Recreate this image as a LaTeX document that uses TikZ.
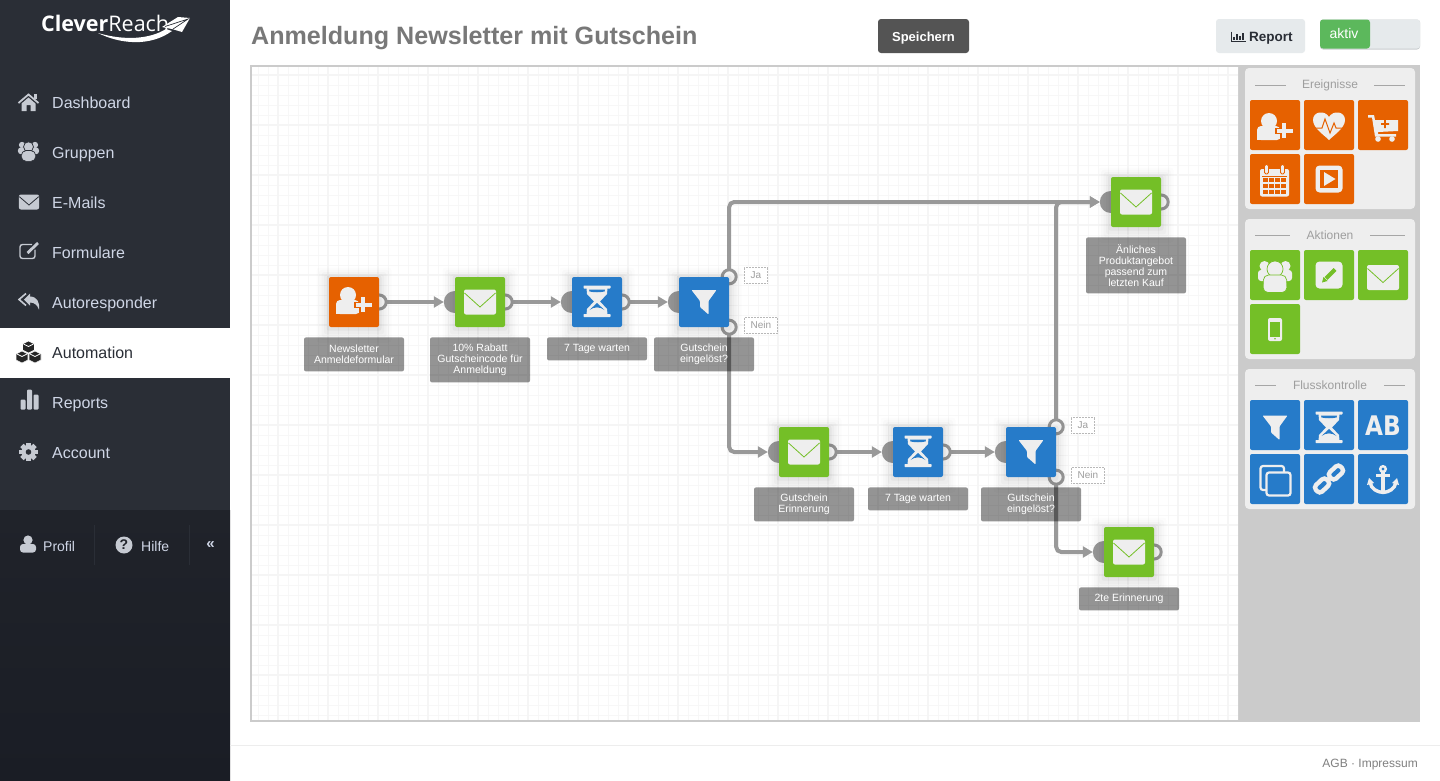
\documentclass[tikz,border=0pt]{standalone}
\usepackage{fontspec}
\setmainfont{Liberation Sans}
\newfontfamily\logofont{Open Sans}
\newfontfamily\abfont{DejaVu Sans}
\usetikzlibrary{positioning,arrows.meta,shadows}
\pgfdeclarelayer{base}
\pgfdeclarelayer{wire}
\pgfsetlayers{base,wire,main}
\definecolor{sidetop}{HTML}{2A2E36}
\definecolor{sidelow}{HTML}{20232A}
\definecolor{sideend}{HTML}{1A1D25}
\definecolor{sidefg}{HTML}{C6CAD2}
\definecolor{sidetxt}{HTML}{CFD6E6}
\definecolor{orng}{HTML}{E66100}
\definecolor{grn}{HTML}{74BF27}
\definecolor{blu}{HTML}{267BC9}
\definecolor{wirec}{HTML}{999999}
\definecolor{panelc}{HTML}{CBCBCB}
\definecolor{cardc}{HTML}{EEEEEE}
\definecolor{btnc}{HTML}{E6EAEC}
\definecolor{btnrim}{HTML}{C8CCCE}
\definecolor{onc}{HTML}{5CB85C}
\newcommand{\fpx}[1]{\fontsize{#1}{#1}\selectfont}
\tikzset{
    softshadow/.style={
        general shadow={fill=black,opacity=.012,shadow scale=1.5,shadow yshift=-2pt,rounded corners=12pt},
        general shadow={fill=black,opacity=.015,shadow scale=1.4,shadow yshift=-2pt,rounded corners=10pt},
        general shadow={fill=black,opacity=.02,shadow scale=1.3,shadow yshift=-2pt,rounded corners=8pt},
        general shadow={fill=black,opacity=.025,shadow scale=1.2,shadow yshift=-2pt,rounded corners=6pt},
        general shadow={fill=black,opacity=.035,shadow scale=1.1,shadow yshift=-1pt,rounded corners=3pt}},
    iconbox/.style={minimum size=50pt,inner sep=0pt,rounded corners=2pt,fill=#1},
    stepbox/.style={iconbox=#1,softshadow},
    portin/.style={circle,fill=wirec,minimum size=22pt,inner sep=0pt,outer sep=0pt},
    portout/.style={circle,draw=wirec,fill=white,line width=3pt,minimum size=14pt,inner sep=0pt,outer sep=0pt},
    flow/.style={draw=wirec,line width=4pt,rounded corners=5pt,-{Triangle[length=10pt,width=11pt]}},
    steplabel/.style={fill=black,fill opacity=.42,text opacity=1,text=white,minimum width=100pt,
        inner xsep=0pt,inner ysep=0pt,rounded corners=2pt,align=center,font=\fontsize{10.5}{11}\selectfont,
        minimum height=#1,below=10pt},
    tagbox/.style={draw=black!28,densely dotted,line width=.5pt,text=black!38,fill=white,anchor=west,
        minimum height=16pt,inner sep=0pt,font=\fpx{10}},
    sideitem/.style={anchor=base west,text=sidetxt,inner sep=0pt,font=\fpx{16}},
    cardtitle/.style={text=black!38,inner sep=0pt,font=\fpx{12}},
    cardrule/.style={draw=black!35,line width=.7pt},
    pics/envlp/.style n args={2}{code={
        \fill[#1,rounded corners=2pt] (-16,-12.5) rectangle (16,12.5);
        \draw[#2,line width=.8pt] (-15.5,-9) -- (0,5) -- (15.5,-9);
    }},
    pics/glass/.style={code={
        \fill[cardc,rounded corners=.6pt] (-13.5,-16.5) rectangle (13.5,-13.5);
        \fill[cardc,rounded corners=.6pt] (-13.5,12) rectangle (13.5,15);
        \fill[cardc] (-10.5,-14) -- (10.5,-14) -- (10,-8) -- (3,-.5) -- (10,7) -- (10.5,12.5) -- (-10.5,12.5) -- (-10,7) -- (-3,-.5) -- (-10,-8) -- cycle;
        \fill[#1] (-8,-12.5) -- (8,-12.5) -- (7.5,-10.5) .. controls (3,-9.5) and (-3,-9.5) .. (-7.5,-10.5) -- cycle;
        \fill[#1] (0,1) -- (7.5,8) .. controls (3,4.5) and (-3,4.5) .. (-7.5,8) -- cycle;
    }},
    pics/funnl/.style={code={
        \fill[#1,rounded corners=.8pt] (-12.5,-12) -- (12.5,-12) -- (4.5,-1) -- (4.5,12.5) -- (-4,5) -- (-4,-1) -- cycle;
    }},
    pics/useradd/.style={code={
        \fill[cardc] (-6,-7) circle (8);
        \fill[cardc,rounded corners=4pt] (-18,-2) -- (5,-2) -- (6,12) -- (-18,12) -- cycle;
        \fill[cardc] (-18,6) rectangle (-14,12);
        \draw[#1,line width=1.2pt,fill=cardc] (1,.5) -- (6,.5) -- (6,-5.5) -- (12,-5.5) -- (12,.5) -- (18.5,.5) -- (18.5,5.5) -- (12,5.5) -- (12,11) -- (6,11) -- (6,5.5) -- (1,5.5) -- cycle;
    }},
    pics/heartbeat/.style={code={
        \fill[cardc] (0,15) .. controls (-5,10) and (-16,3) .. (-16,-5) .. controls (-16,-14) and (-4,-15) .. (0,-8) .. controls (4,-15) and (16,-14) .. (16,-5) .. controls (16,3) and (5,10) .. (0,15) -- cycle;
        \draw[#1,line width=1pt] (-17,3) -- (-7,3) -- (-4,-6) -- (1,8) -- (5,-2) -- (7,3) -- (17,3);
    }},
    pics/cart/.style={code={
        \fill[cardc] (-15,-10) -- (-9,-10) -- (-8,-5) -- (15,-5) -- (15,6) -- (-5,7) -- (-5,9) -- (13,9) -- (13,11.5) -- (-8,11.5) -- (-11,-7.5) -- (-15,-7.5) -- cycle;
        \fill[cardc] (-5,14) circle (2.8) (9,14) circle (2.8);
        \fill[#1] (-2,-1.8) rectangle (6,-.2) (1.2,-5) rectangle (2.8,3);
    }},
    pics/calendar/.style={code={
        \fill[cardc,rounded corners=2pt] (-14.5,-10) rectangle (14.5,17.5);
        \fill[#1] (-12.5,-3.5) rectangle (12.5,-2.5);
        \foreach \cx in {-12,-6,0,6} \foreach \cy in {-1,5,11} \fill[#1] (\cx+.8,\cy) rectangle (\cx+5,\cy+4);
        \draw[#1,fill=cardc,line width=.8pt,rounded corners=1.5pt] (-10,-14.5) rectangle (-6,-5) (6,-14.5) rectangle (10,-5);
    }},
    pics/playbox/.style={code={
        \fill[cardc,rounded corners=4pt] (-13.5,-13.5) rectangle (13.5,13.5);
        \fill[#1] (-9,-9) rectangle (9,9);
        \fill[cardc] (-5,-7) -- (6.5,0) -- (-5,7) -- cycle;
    }},
    pics/crowd/.style n args={2}{code={
        \fill[#1] (-10.5,-9) circle (5) (10.5,-9) circle (5);
        \fill[#1,rounded corners=3pt] (-17,-5) rectangle (-6,6) (6,-5) rectangle (17,6);
        \draw[#2,fill=#1,line width=.7pt] (0,-6) circle (8);
        \draw[#2,fill=#1,line width=.7pt,rounded corners=5pt] (-11.5,0) -- (11.5,0) -- (12,17.5) -- (-12,17.5) -- cycle;
    }},
    pics/editbox/.style={code={
        \fill[cardc,rounded corners=4pt] (-13.5,-13.5) rectangle (13.5,13.5);
        \draw[#1,line width=4pt] (-3,3.5) -- (6,-5.5);
        \fill[#1] (-7,7.5) -- (-5.5,2) -- (-1.5,6) -- cycle;
    }},
    pics/mobile/.style={code={
        \fill[cardc,rounded corners=2pt] (-7,-11) rectangle (7,12);
        \fill[#1] (-5,-7) rectangle (5,7.5);
        \fill[#1] (0,9.8) circle (.9);
    }},
    pics/copies/.style={code={
        \draw[cardc,line width=2.2pt,rounded corners=2.5pt] (-14.5,-13) rectangle (9,11);
        \draw[cardc,fill=#1,line width=2.2pt,rounded corners=2.5pt] (-8.5,-6.5) rectangle (15.5,16.5);
    }},
    pics/chain/.style={code={
        \draw[cardc,line width=4.4pt,rounded corners=3.5pt,rotate=43] (-17,-4.5) rectangle (-2,4.5) (2,-4.5) rectangle (17,4.5);
    }},
    pics/anchr/.style={code={
        \draw[cardc,line width=2.4pt] (0,-10) circle (2.8);
        \fill[cardc] (-2,-7) rectangle (2,14);
        \fill[cardc] (-7,-5.5) rectangle (7,-2.5);
        \draw[cardc,line width=3.4pt] (-13,3) .. controls (-12,10) and (-6,13) .. (0,13.5) .. controls (6,13) and (12,10) .. (13,3);
        \fill[cardc] (-16,6) -- (-14,-1) -- (-9,4) -- cycle (16,6) -- (14,-1) -- (9,4) -- cycle;
    }},
    pics/homeicon/.style={code={
        \draw[#1,line width=1.8pt,line join=miter] (-10,1) -- (0,-7.5) -- (10,1);
        \fill[#1] (5,-8) rectangle (8,-3);
        \fill[#1] (-7,1.5) -- (0,-4.5) -- (7,1.5) -- (7,9) -- (2,9) -- (2,3) -- (-2,3) -- (-2,9) -- (-7,9) -- cycle;
    }},
    pics/editicon/.style n args={2}{code={
        \draw[#1,line width=1.4pt,rounded corners=2.5pt] (6,-2) -- (6,7) -- (-9,7) -- (-9,-7) -- (3,-7);
        \draw[#2,line width=4.2pt] (-2,2) -- (9,-8.5);
        \draw[#1,line width=2.8pt] (-1.5,1.5) -- (9,-8.5);
    }},
    pics/replyicon/.style={code={
        \draw[#1,line width=1.6pt] (-3,-8) -- (-10,-2) -- (-3,4);
        \fill[#1] (-5,-2) -- (1,-8) -- (1,-5) .. controls (8,-5) and (11,1) .. (10,8) .. controls (8,3) and (5,1) .. (1,1) -- (1,4) -- cycle;
    }},
    pics/cubeicon/.style={code={
        \foreach \qx/\qy in {0/-5,-6.5/5,6.5/5}
            \draw[white,line width=.6pt,fill=#1,shift={(\qx,\qy)}] (0,-6) -- (6,-3) -- (6,3) -- (0,6) -- (-6,3) -- (-6,-3) -- cycle;
        \foreach \qx/\qy in {0/-5,-6.5/5,6.5/5}
            \draw[white,line width=.7pt,shift={(\qx,\qy)}] (-5,-3) -- (0,-.5) -- (5,-3);
    }},
    pics/barsicon/.style={code={
        \fill[#1,rounded corners=1pt] (-9,-1) rectangle (-4,9) (-2.5,-11) rectangle (2.5,9) (4,-6) rectangle (9,9);
    }},
    pics/cogicon/.style n args={2}{code={
        \foreach \qa in {0,45,...,315} \fill[#1,rotate=\qa] (-2.4,-9.2) rectangle (2.4,0);
        \fill[#1] (0,0) circle (7);
        \fill[#2] (0,0) circle (2.8);
    }},
    pics/personicon/.style={code={
        \fill[#1] (0,-5) circle (4.6);
        \fill[#1,rounded corners=3pt] (-8,-1) rectangle (8,7.5);
    }},
    pics/reportbars/.style={code={
        \draw[#1,line width=.7pt] (-7,-5) -- (-7,4.5) -- (7.5,4.5);
        \foreach \qx/\qh in {-5/3,-2/6,1/4,4/7} \fill[#1] (\qx,3.6) rectangle (\qx+1.7,3.6-\qh);
    }},
}
\begin{document}
\begin{tikzpicture}[x=1pt,y=-1pt]
\useasboundingbox (0,0) rectangle (1440,780);
\begin{pgfonlayer}{base}
    \fill[white] (0,0) rectangle (1440,780);
    % sidebar
    \fill[sidetop] (0,0) rectangle (230,510);
    \shade[top color=sidelow,bottom color=sideend] (0,510) rectangle (230,780);
    \fill[white] (0,328) rectangle (230,378);
    \draw[sidetop,line width=1pt] (94.5,525) -- (94.5,565) (189.5,525) -- (189.5,565);
    % canvas
    \fill[panelc] (250,65) rectangle (1420,722);
    \fill[white] (252,67) rectangle (1238,720);
    \begin{scope}
        \clip (252,67) rectangle (1238,720);
        \foreach \gx in {258,268,...,1238} \draw[black!3,line width=.5pt] (\gx,67) -- (\gx,720);
        \foreach \gy in {75,85,...,720} \draw[black!3,line width=.5pt] (252,\gy) -- (1238,\gy);
        \foreach \gx in {278,328,...,1238} \draw[black!4,line width=2pt] (\gx,67) -- (\gx,720);
        \foreach \gy in {75,125,...,720} \draw[black!4,line width=2pt] (252,\gy) -- (1238,\gy);
    \end{scope}
    \draw[black!7] (230,745.5) -- (1440,745.5);
\end{pgfonlayer}
% head
\node[anchor=base west,inner sep=0pt,text=black!53,font=\bfseries\fpx{25.1}] (title) at (251,44) {Anmeldung Newsletter mit Gutschein};
\node[fill=black!67,rounded corners=3pt,minimum width=91pt,minimum height=34pt,inner sep=0pt] (save) at (923.5,36) {};
\node[anchor=base,inner sep=0pt,text=white,font=\bfseries\fpx{13}] (savetxt) at (923.5,41) {Speichern};
\node[fill=btnc,rounded corners=3pt,minimum width=89pt,minimum height=34pt,inner sep=0pt] (report) at (1260.5,36) {};
\node[anchor=base west,inner sep=0pt,text=sidetop,font=\fpx{13.5}] (reporttxt) at (1249,41) {\bfseries Report};
\pic at (1238,36.5) {reportbars=sidetop};
\node[fill=btnrim,rounded corners=3pt,minimum width=100pt,minimum height=30pt,inner sep=0pt] (switchrim) at (1370,34.5) {};
\node[fill=btnc,rounded corners=3pt,minimum width=100pt,minimum height=29pt,inner sep=0pt] (switch) at (1370,34) {};
\node[fill=onc,rounded corners=3pt,minimum width=50pt,minimum height=29pt,inner sep=0pt] (switchon) at (1345,34) {};
\node[inner sep=0pt,text=white,font=\fpx{14}] (switchtxt) at (1344,33) {aktiv};
% sidebar
\node[anchor=base west,inner sep=0pt,text=white,font=\logofont\fpx{21.5}] (logo) at (41,31) {\textbf{Clever}Reach};
\fill[white] (98,33) .. controls (120,44) and (150,47) .. (172,31) -- (166,29) .. controls (150,39) and (125,41) .. (98,33) -- cycle;
\fill[white] (162,27) -- (178,17) -- (190,18) -- (182,32) -- (172,29) -- cycle;
\draw[sidetop,line width=.7pt] (165,26.5) -- (188,19) -- (173,29);
\foreach \ny/\nm/\txt in {108/dash/Dashboard,158/groups/Gruppen,208/mails/E-Mails,258/forms/Formulare,308/auto/Autoresponder,408/reps/Reports,458/acct/Account}
    \node[sideitem] (side\nm) at (52,\ny) {\txt};
\node[sideitem,text=sidetop] (sideflow) at (52,358) {Automation};
\pic at (28.5,102) {homeicon=sidefg};
\pic[scale=.62] at (28.5,150.5) {crowd={sidefg}{sidetop}};
\pic[xscale=.63,yscale=.6] at (29,202) {envlp={sidefg}{sidetop}};
\pic at (29,251.5) {editicon={sidefg}{sidetop}};
\pic at (29,301.5) {replyicon=sidefg};
\pic at (28.5,352) {cubeicon=black!85};
\pic at (29.5,400.5) {barsicon=sidefg};
\pic at (28.5,452) {cogicon={sidefg}{sidetop}};
\pic at (28,545) {personicon=sidefg};
\node[inner sep=0pt,text=sidetxt,anchor=base west,font=\fpx{14}] (profil) at (43,551) {Profil};
\node[circle,fill=sidefg,minimum size=17pt,inner sep=0pt,text=sidelow,font=\bfseries\fpx{14}] (helpicon) at (124,545) {?};
\node[inner sep=0pt,text=sidetxt,anchor=base west,font=\fpx{14}] (hilfe) at (141,551) {Hilfe};
\node[inner sep=0pt,text=sidetxt,font=\bfseries\fpx{15}] (fold) at (210.5,545.5) {«};
% palette
\foreach \cy/\ch/\nm in {68/141/a,219/140/b,369/140/c}
    \fill[cardc,rounded corners=4pt] (1245,\cy) rectangle (1415,\cy+\ch);
\node[cardtitle] (cardev) at (1330,85.5) {Ereignisse};
\node[cardtitle] (cardact) at (1330,235.5) {Aktionen};
\node[cardtitle] (cardflow) at (1330,385.5) {Flusskontrolle};
\draw[cardrule] (1255,85) -- (1286,85) (1374,85) -- (1405,85);
\draw[cardrule] (1255,235) -- (1290,235) (1370,235) -- (1405,235);
\draw[cardrule] (1255,385) -- (1276,385) (1384,385) -- (1405,385);
\foreach \px/\py/\pc/\nm in {1275/125/orng/e1,1329/125/orng/e2,1383/125/orng/e3,1275/179/orng/e4,1329/179/orng/e5,
    1275/275/grn/a1,1329/275/grn/a2,1383/275/grn/a3,1275/329/grn/a4,
    1275/425/blu/f1,1329/425/blu/f2,1383/425/blu/f3,1275/479/blu/f4,1329/479/blu/f5,1383/479/blu/f6}
    \node[iconbox=\pc] (pal\nm) at (\px,\py) {};
\pic at (1275,128) {useradd=orng};
\pic at (1329,125) {heartbeat=orng};
\pic at (pale3) {cart=orng};
\pic at (1274.5,179) {calendar=orng};
\pic at (pale5) {playbox=orng};
\pic at (pala1) {crowd={cardc}{grn}};
\pic at (pala2) {editbox=grn};
\pic at (1383,277.5) {envlp={cardc}{grn}};
\pic at (pala4) {mobile=grn};
\pic at (1275,427.5) {funnl=cardc};
\pic at (1329,428) {glass=blu};
\node[inner sep=0pt,text=cardc,font=\abfont\bfseries\fpx{27}] (abtxt) at (1383,425.5) {\scalebox{.86}[1]{AB}};
\pic at (palf4) {copies=blu};
\pic at (palf5) {chain=blu};
\pic at (palf6) {anchr=blu};
% flow nodes
\node[stepbox=orng] (n1) at (354,302) {};
\node[stepbox=grn] (n2) at (480,302) {};
\node[stepbox=blu] (n3) at (597,302) {};
\node[stepbox=blu] (n4) at (704,302) {};
\node[stepbox=grn] (n5) at (804,452) {};
\node[stepbox=blu] (n6) at (918,452) {};
\node[stepbox=blu] (n7) at (1031,452) {};
\node[stepbox=grn] (n8) at (1136,202) {};
\node[stepbox=grn] (n9) at (1129,552) {};
\pic at (n1) {useradd=orng};
\pic at (n2) {envlp={cardc}{grn}};
\pic at (n3) {glass=blu};
\pic at (n4) {funnl=cardc};
\pic at (n5) {envlp={cardc}{grn}};
\pic at (n6) {glass=blu};
\pic at (n7) {funnl=cardc};
\pic at (n8) {envlp={cardc}{grn}};
\pic at (n9) {envlp={cardc}{grn}};
\begin{pgfonlayer}{wire}
    \foreach \st in {n2,n3,n4,n5,n6,n7,n8,n9}
        \node[portin] (\st in) at (\st.west) {};
    \foreach \st in {n1,n2,n3,n5,n6,n8,n9}
        \node[portout] (\st out) at (\st.east) {};
    \node[portout] (n4ja) at (n4.north east) {};
    \node[portout] (n4nein) at (n4.south east) {};
    \node[portout] (n7ja) at (n7.north east) {};
    \node[portout] (n7nein) at (n7.south east) {};
    \draw[flow] (n1out) -- (n2in.west);
    \draw[flow] (n2out) -- (n3in.west);
    \draw[flow] (n3out) -- (n4in.west);
    \draw[flow] (n5out) -- (n6in.west);
    \draw[flow] (n6out) -- (n7in.west);
    \draw[flow] (n4ja.north) |- (n8in.west);
    \draw[flow] (n4nein.south) |- (n5in.west);
    \draw[flow] (n7ja.north) |- (n8in.west);
    \draw[flow] (n7nein.south) |- (n9in.west);
\end{pgfonlayer}
% labels
\node[steplabel=34pt,below=10pt of n1] (l1) {Newsletter\\Anmeldeformular};
\node[steplabel=45pt,below=10pt of n2] (l2) {10\% Rabatt\\Gutscheincode für\\Anmeldung};
\node[steplabel=23pt,below=10pt of n3] (l3) {7 Tage warten};
\node[steplabel=34pt,below=10pt of n4] (l4) {Gutschein\\eingelöst?};
\node[steplabel=34pt,below=10pt of n5] (l5) {Gutschein\\Erinnerung};
\node[steplabel=23pt,below=10pt of n6] (l6) {7 Tage warten};
\node[steplabel=34pt,below=10pt of n7] (l7) {Gutschein\\eingelöst?};
\node[steplabel=56pt,below=10pt of n8] (l8) {Änliches\\Produktangebot\\passend zum\\letzten Kauf};
\node[steplabel=23pt,below=10pt of n9] (l9) {2te Erinnerung};
\node[tagbox,minimum width=23pt] (t4ja) at ([shift={(15pt,2pt)}]n4.north east) {Ja};
\node[tagbox,minimum width=33pt] (t4nein) at ([shift={(15pt,2pt)}]n4.south east) {Nein};
\node[tagbox,minimum width=23pt] (t7ja) at ([shift={(15pt,2pt)}]n7.north east) {Ja};
\node[tagbox,minimum width=33pt] (t7nein) at ([shift={(15pt,2pt)}]n7.south east) {Nein};
% foot
\node[anchor=base east,inner sep=0pt,text=black!50,font=\fpx{12}] (foot) at (1418,767) {AGB · Impressum};
\end{tikzpicture}
\end{document}
